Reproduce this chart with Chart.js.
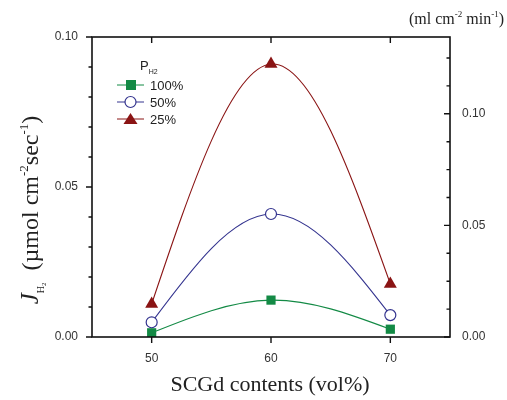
<!DOCTYPE html>
<html>
<head>
<meta charset="utf-8">
<script src="https://cdn.jsdelivr.net/npm/chart.js@4"></script>
<style>
  html, body { margin: 0; padding: 0; background: #fff; }
  #wrap { width: 507px; height: 400px; }
</style>
</head>
<body>
<div id="wrap"><canvas id="fluxChart" width="507" height="400"></canvas></div>
<script>
// SCGd content (vol%) and H2 flux (umol cm-2 sec-1) for each H2 partial pressure
const contents = [50, 60, 70];
const flux100 = [0.0014, 0.0123, 0.0026];
const flux50 = [0.0049, 0.0410, 0.0073];
const flux25 = [0.0110, 0.0910, 0.0177];
const seriesLabels = ['100%', '50%', '25%'];

const xTicks = [50, 60, 70];
const yTicks = [0.00, 0.05, 0.10];
const y2Ticks = [0.00, 0.05, 0.10];

const green = '#138a45', blue = '#34348f', red = '#8a1414';

function pts(vals) {
    return contents.map((c, i) => ({ x: c, y: vals[i] }));
}

// draws a run of text pieces (normal / sub / super) one after another
function drawRich(ctx, parts, x, y, align) {
    let w = 0;
    parts.forEach(p => { ctx.font = p.font; w += ctx.measureText(p.t).width; });
    let cx = align === 'center' ? x - w / 2 : (align === 'right' ? x - w : x);
    ctx.textAlign = 'left';
    ctx.textBaseline = 'alphabetic';
    parts.forEach(p => {
        ctx.font = p.font;
        ctx.fillText(p.t, cx, y + (p.dy || 0));
        cx += ctx.measureText(p.t).width;
    });
}

// natural cubic spline through the drawn points (like the original plot's spline)
const naturalSpline = {
    id: 'naturalSpline',
    beforeDatasetDraw(chart, args) {
        const meta = args.meta;
        meta.dataset.updateControlPoints(chart.chartArea, 'x');
        const p = meta.data;
        const n = p.length;
        if (n < 3) return;
        const h = [], d = [];
        for (let i = 0; i < n - 1; i++) {
            h.push(p[i + 1].x - p[i].x);
            d.push((p[i + 1].y - p[i].y) / h[i]);
        }
        // second derivatives, M0 = Mn-1 = 0
        const M = new Array(n).fill(0);
        const a = [], b = [], c = [], r = [];
        for (let i = 1; i < n - 1; i++) {
            a.push(h[i - 1]); b.push(2 * (h[i - 1] + h[i])); c.push(h[i]);
            r.push(6 * (d[i] - d[i - 1]));
        }
        const m = b.length;
        for (let i = 1; i < m; i++) {
            const w = a[i] / b[i - 1];
            b[i] -= w * c[i - 1];
            r[i] -= w * r[i - 1];
        }
        for (let i = m - 1; i >= 0; i--) {
            M[i + 1] = (r[i] - (i < m - 1 ? c[i] * M[i + 2] : 0)) / b[i];
        }
        for (let i = 0; i < n - 1; i++) {
            const s0 = d[i] - h[i] * (2 * M[i] + M[i + 1]) / 6;
            const s1 = d[i] + h[i] * (M[i] + 2 * M[i + 1]) / 6;
            p[i].cp2x = p[i].x + h[i] / 3;
            p[i].cp2y = p[i].y + s0 * h[i] / 3;
            p[i + 1].cp1x = p[i + 1].x - h[i] / 3;
            p[i + 1].cp1y = p[i + 1].y - s1 * h[i] / 3;
        }
    }
};

const frame = {
    id: 'frame',
    afterDraw(chart) {
        const ctx = chart.ctx;
        const a = chart.chartArea;
        const x = chart.scales.x, y = chart.scales.y, y2 = chart.scales.y2;
        ctx.save();
        ctx.strokeStyle = '#111';
        ctx.lineWidth = 1.6;
        ctx.strokeRect(a.left, a.top, a.right - a.left, a.bottom - a.top);

        ctx.lineWidth = 1.4;
        ctx.beginPath();
        // x ticks: outward on bottom, inward on top
        xTicks.forEach(v => {
            const px = x.getPixelForValue(v);
            ctx.moveTo(px, a.bottom); ctx.lineTo(px, a.bottom + 6);
            ctx.moveTo(px, a.top); ctx.lineTo(px, a.top + 6);
        });
        // left axis, outward
        for (let v = 0; v <= 0.1001; v += 0.01) {
            const py = y.getPixelForValue(v);
            const major = Math.abs(v * 20 - Math.round(v * 20)) < 1e-6;
            ctx.moveTo(a.left, py); ctx.lineTo(a.left - (major ? 6 : 3.5), py);
        }
        // right axis, inward
        for (let v = 0; v <= y2.max + 1e-6; v += 0.0125) {
            const py = y2.getPixelForValue(v);
            const major = Math.abs(v * 20 - Math.round(v * 20)) < 1e-6;
            ctx.moveTo(a.right, py); ctx.lineTo(a.right - (major ? 6 : 3.5), py);
        }
        ctx.stroke();

        // legend
        ctx.fillStyle = '#222';
        drawRich(ctx, [
            { t: 'P', font: '13px "Liberation Sans"' },
            { t: 'H2', font: '7px "Liberation Sans"', dy: 4 }
        ], 140, 70, 'left');
        const rows = [
            { c: green, shape: 'sq' },
            { c: blue, shape: 'ci' },
            { c: red, shape: 'tr' }
        ];
        rows.forEach((r, i) => {
            const ly = 85 + i * 17;
            ctx.strokeStyle = r.c;
            ctx.lineWidth = 1;
            ctx.beginPath(); ctx.moveTo(117, ly); ctx.lineTo(144, ly); ctx.stroke();
            ctx.fillStyle = r.c;
            if (r.shape === 'sq') {
                ctx.fillRect(126, ly - 5, 10, 10);
            } else if (r.shape === 'ci') {
                ctx.fillStyle = '#fff';
                ctx.beginPath(); ctx.arc(130.5, ly, 5.5, 0, Math.PI * 2); ctx.fill();
                ctx.lineWidth = 1.2; ctx.stroke();
            } else {
                ctx.beginPath();
                ctx.moveTo(130.5, ly - 6); ctx.lineTo(137.5, ly + 5); ctx.lineTo(123.5, ly + 5);
                ctx.closePath(); ctx.fill();
            }
            ctx.fillStyle = '#222';
            ctx.font = '13px "Liberation Sans"';
            ctx.textAlign = 'left';
            ctx.textBaseline = 'middle';
            ctx.fillText(seriesLabels[i], 150, ly + 1);
        });

        // axis titles
        ctx.fillStyle = '#222';
        drawRich(ctx, [{ t: 'SCGd contents (vol%)', font: '22px "Liberation Serif"' }],
            (a.left + a.right) / 2 - 1, 391, 'center');
        drawRich(ctx, [
            { t: '(ml cm', font: '16px "Liberation Serif"' },
            { t: '-2', font: '9px "Liberation Serif"', dy: -7 },
            { t: ' min', font: '16px "Liberation Serif"' },
            { t: '-1', font: '9px "Liberation Serif"', dy: -7 },
            { t: ')', font: '16px "Liberation Serif"' }
        ], 504, 24, 'right');

        ctx.translate(38, 210);
        ctx.rotate(-Math.PI / 2);
        drawRich(ctx, [
            { t: 'J', font: 'italic 25px "Liberation Serif"' },
            { t: 'H', font: '10px "Liberation Serif"', dy: 6 },
            { t: '2', font: '7px "Liberation Serif"', dy: 8 },
            { t: '  (\u00b5mol cm', font: '24px "Liberation Serif"' },
            { t: '-2', font: '13px "Liberation Serif"', dy: -10 },
            { t: 'sec', font: '24px "Liberation Serif"' },
            { t: '-1', font: '13px "Liberation Serif"', dy: -10 },
            { t: ')', font: '24px "Liberation Serif"' }
        ], 0, 0, 'center');
        ctx.restore();
    }
};

const tickFont = { family: 'Liberation Sans', size: 12 };

new Chart(document.getElementById('fluxChart'), {
    type: 'line',
    data: {
        datasets: [{
            label: seriesLabels[0],
            data: pts(flux100),
            borderColor: green,
            backgroundColor: green,
            pointStyle: 'rect',
            pointRadius: 6.5,
            pointBorderWidth: 0
        }, {
            label: seriesLabels[1],
            data: pts(flux50),
            borderColor: blue,
            backgroundColor: '#fff',
            pointStyle: 'circle',
            pointRadius: 5.5,
            pointBorderWidth: 1.2
        }, {
            label: seriesLabels[2],
            data: pts(flux25),
            borderColor: red,
            backgroundColor: red,
            pointStyle: 'triangle',
            pointRadius: 7.5,
            pointBorderWidth: 0
        }]
    },
    options: {
        responsive: false,
        animation: false,
        layout: { padding: { top: 37, left: 0, right: 0, bottom: 0 } },
        elements: { line: { tension: 0.4, borderWidth: 1.1, fill: false, capBezierPoints: false } },
        plugins: { legend: { display: false }, tooltip: { enabled: false } },
        scales: {
            x: {
                type: 'linear', min: 45, max: 75,
                afterFit: s => { s.height = 63; },
                afterBuildTicks: s => { s.ticks = xTicks.map(v => ({ value: v })); },
                grid: { display: false }, border: { display: false },
                ticks: { color: '#333', font: tickFont, padding: 6, maxRotation: 0 }
            },
            y: {
                position: 'left', min: 0, max: 0.10,
                afterFit: s => { s.width = 92; },
                afterBuildTicks: s => { s.ticks = yTicks.map(v => ({ value: v })); },
                grid: { display: false }, border: { display: false },
                ticks: { color: '#333', font: tickFont, padding: 6, callback: v => v.toFixed(2) }
            },
            y2: {
                position: 'right', min: 0, max: 0.1344,
                afterFit: s => { s.width = 57; },
                afterBuildTicks: s => { s.ticks = y2Ticks.map(v => ({ value: v })); },
                grid: { display: false }, border: { display: false },
                ticks: { color: '#333', font: tickFont, padding: 4, callback: v => v.toFixed(2) }
            }
        }
    },
    plugins: [naturalSpline, frame]
});
</script>
</body>
</html>
